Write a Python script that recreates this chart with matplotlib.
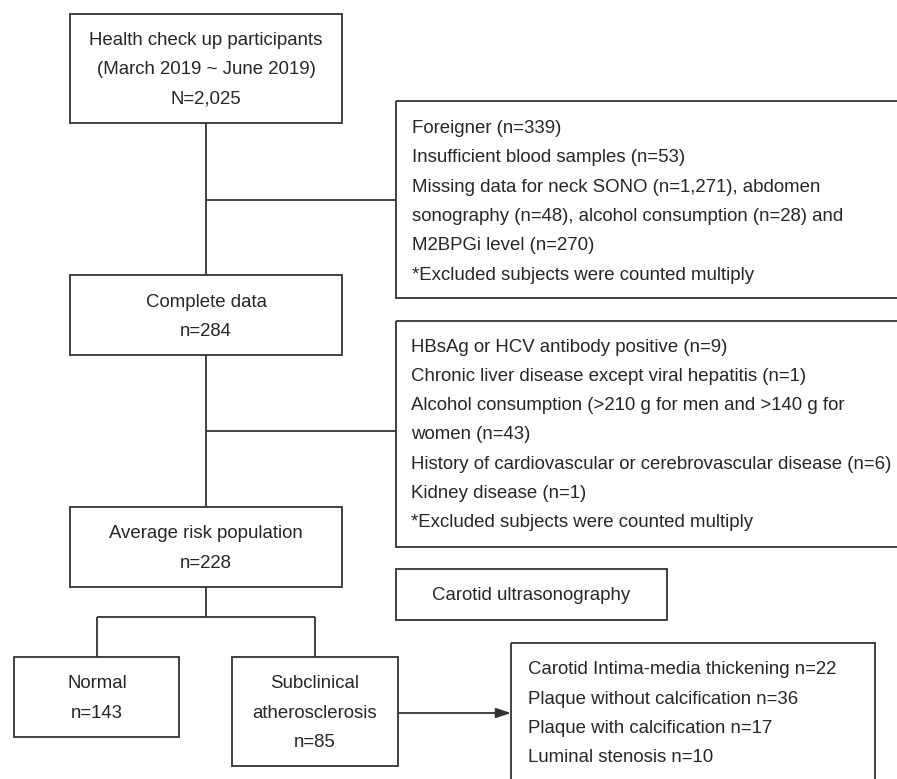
import matplotlib.pyplot as plt
from matplotlib.patches import Rectangle

plt.rcParams['font.family'] = ['Liberation Sans', 'DejaVu Sans']

# flow boxes (centered text)
main_boxes = [
    ("Health check up participants", "(March 2019 ~ June 2019)", "N=2,025"),
    ("Complete data", "n=284"),
    ("Average risk population", "n=228"),
    ("Normal", "n=143"),
    ("Subclinical", "atherosclerosis", "n=85"),
]
# exclusion / result boxes (left aligned text)
excl1 = ["Foreigner (n=339)",
         "Insufficient blood samples (n=53)",
         "Missing data for neck SONO (n=1,271), abdomen",
         "sonography (n=48), alcohol consumption (n=28) and",
         "M2BPGi level (n=270)",
         "*Excluded subjects were counted multiply"]
excl2 = ["HBsAg or HCV antibody positive (n=9)",
         "Chronic liver disease except viral hepatitis (n=1)",
         "Alcohol consumption (>210 g for men and >140 g for",
         "women (n=43)",
         "History of cardiovascular or cerebrovascular disease (n=6)",
         "Kidney disease (n=1)",
         "*Excluded subjects were counted multiply"]
method_label = "Carotid ultrasonography"
subtypes = ["Carotid Intima-media thickening n=22",
            "Plaque without calcification n=36",
            "Plaque with calcification n=17",
            "Luminal stenosis n=10"]

W, H = 897, 779
fig = plt.figure(figsize=(W/100, H/100), dpi=100)
ax = fig.add_axes([0, 0, 1, 1])
ax.set_xlim(0, W)
ax.set_ylim(H, 0)
ax.axis('off')

lc = '#333333'
tc = '#262626'
fs = 13.45
lw = 1.3
step = 29.3

def box(x0, y0, x1, y1):
    ax.add_patch(Rectangle((x0, y0), x1-x0, y1-y0, fill=False, ec=lc, lw=lw, clip_on=False))

def centered(lines, cx, y_first):
    for i, t in enumerate(lines):
        ax.text(cx, y_first + i*step, t, ha='center', va='center', fontsize=fs, color=tc)

def left(lines, x, y_first):
    for i, t in enumerate(lines):
        ax.text(x, y_first + i*step, t, ha='left', va='center', fontsize=fs, color=tc)

def line(xs, ys):
    ax.plot(xs, ys, color=lc, lw=lw, solid_capstyle='butt')

# main column
box(70, 14, 342, 123); centered(main_boxes[0], 206, 40)
box(70, 275, 342, 355); centered(main_boxes[1], 206, 302)
box(70, 507, 342, 587); centered(main_boxes[2], 206, 534)
box(14, 657, 179, 737); centered(main_boxes[3], 97, 684)
box(232, 657, 398, 766); centered(main_boxes[4], 315, 684)

line([206, 206], [123, 275])
line([206, 206], [355, 507])
line([206, 396], [200, 200])
line([206, 396], [431, 431])
line([206, 206], [587, 617])
line([97, 315], [617, 617])
line([97, 97], [617, 657])
line([315, 315], [617, 657])

# exclusion boxes (open to the right edge)
box(396, 101, 905, 298); left(excl1, 412, 128.5)
box(396, 321, 905, 547); left(excl2, 411, 347)

box(396, 569, 667, 620)
ax.text(531, 595, method_label, ha='center', va='center', fontsize=fs, color=tc)

box(511, 643, 875, 800); left(subtypes, 528, 670)
ax.annotate('', xy=(511, 713), xytext=(398, 713),
            arrowprops=dict(arrowstyle='-|>,head_length=0.9,head_width=0.3', color=lc, lw=lw,
                            shrinkA=0, shrinkB=0))

fig.savefig('out.png', dpi=100)
